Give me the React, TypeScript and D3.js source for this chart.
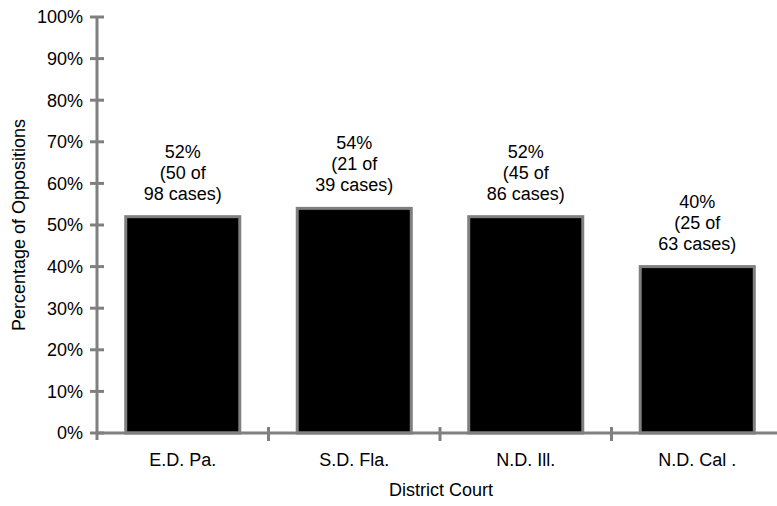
import React from "react";
import * as d3 from "d3";

const categories = ["E.D. Pa.", "S.D. Fla.", "N.D. Ill.", "N.D. Cal ."];
const percents = [52, 54, 52, 40];
const counts = [50, 21, 45, 25];
const totals = [98, 39, 86, 63];
const yTicks = [0, 10, 20, 30, 40, 50, 60, 70, 80, 90, 100];

const W = 777;
const H = 506;
const FONT = "'Liberation Sans', Arial, sans-serif";
const GRAY = "#808080";
const FS = 18;

export default function App() {
  const x0 = 97;
  const x1 = 783;
  const y = d3.scaleLinear().domain([0, 100]).range([433, 17]);
  const x = d3.scaleBand<string>().domain(categories).range([x0, x1]).paddingInner(0.335).paddingOuter(0.1675);
  const band = d3.scaleBand<string>().domain(categories).range([x0, x1]).padding(0);

  return (
    <svg width={W} height={H} style={{ position: "absolute", left: 0, top: 0, background: "#fff" }} fontFamily={FONT}>
      {/* bars */}
      {categories.map((c, i) => (
        <rect
          key={c}
          x={x(c)!}
          y={y(percents[i])}
          width={x.bandwidth()}
          height={y(0) - y(percents[i])}
          fill="#000"
          stroke={GRAY}
          strokeWidth={3}
        />
      ))}
      {/* annotations */}
      {categories.map((c, i) => {
        const cx = x(c)! + x.bandwidth() / 2;
        const base = y(percents[i]) - 17;
        return (
          <text key={"a" + c} x={cx} textAnchor="middle" fontSize={FS} fill="#000">
            <tspan x={cx} y={base - 42}>{percents[i]}%</tspan>
            <tspan x={cx} y={base - 21}>({counts[i]} of</tspan>
            <tspan x={cx} y={base}>{totals[i]} cases)</tspan>
          </text>
        );
      })}
      {/* y axis */}
      <line x1={x0} x2={x0} y1={y(100)} y2={y(0) + 7} stroke={GRAY} strokeWidth={3} />
      {yTicks.map((t) => (
        <g key={t}>
          <line x1={x0 - 7} x2={x0 + 7} y1={y(t)} y2={y(t)} stroke={GRAY} strokeWidth={3} />
          <text x={x0 - 14} y={y(t)} dy="0.36em" textAnchor="end" fontSize={FS} fill="#000">
            {t}%
          </text>
        </g>
      ))}
      {/* x axis */}
      <line x1={x0} x2={x1} y1={y(0)} y2={y(0)} stroke={GRAY} strokeWidth={3} />
      {categories.map((c, i) => (
        <g key={"x" + c}>
          {i > 0 && (
            <line x1={band(c)!} x2={band(c)!} y1={y(0) - 6} y2={y(0) + 8} stroke={GRAY} strokeWidth={3} />
          )}
          <text x={band(c)! + band.bandwidth() / 2} y={466} textAnchor="middle" fontSize={FS} fill="#000">
            {c}
          </text>
        </g>
      ))}
      {/* axis titles */}
      <text x={441} y={496} textAnchor="middle" fontSize={FS} fill="#000">
        District Court
      </text>
      <text
        transform={`translate(25, 225) rotate(-90)`}
        textAnchor="middle"
        fontSize={FS}
        fill="#000"
      >
        Percentage of Oppositions
      </text>
    </svg>
  );
}
